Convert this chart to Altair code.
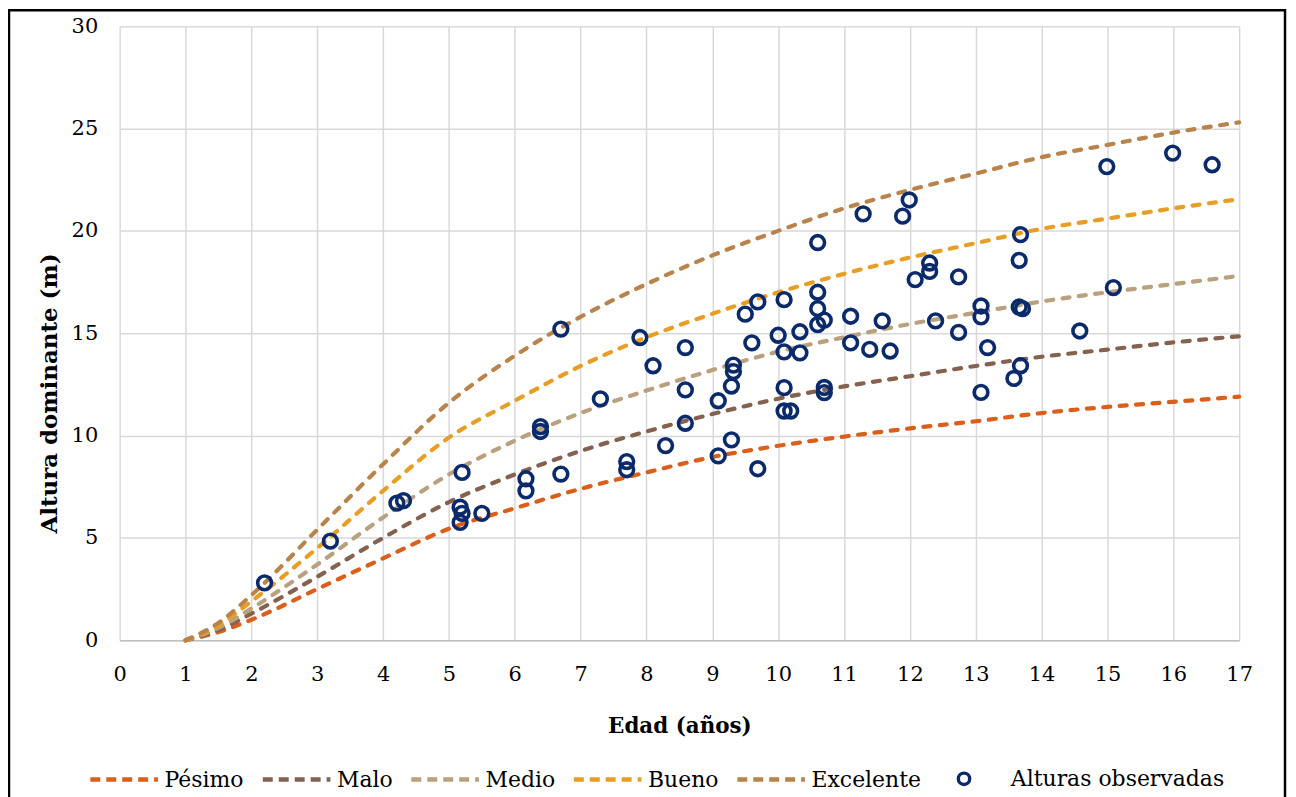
import altair as alt
import pandas as pd

# --- curves ---
ages = [1, 1.5, 2, 3, 4, 5, 6, 7, 8, 9, 10, 11, 12, 13, 14, 15, 16, 17]
excelente = [0, 0.85, 2.2, 5.4, 8.6, 11.6, 13.9, 15.8, 17.4, 18.8, 20.0, 21.1, 22.0, 22.8, 23.6, 24.2, 24.8, 25.3]
bueno = [0, 0.72, 1.9, 4.5, 7.3, 9.9, 11.7, 13.4, 14.8, 15.95, 17.0, 17.9, 18.7, 19.4, 20.1, 20.6, 21.1, 21.55]
medio = [0, 0.6, 1.55, 3.7, 6.0, 8.1, 9.75, 11.1, 12.2, 13.2, 14.1, 14.8, 15.45, 16.0, 16.55, 17.0, 17.4, 17.8]
malo = [0, 0.5, 1.3, 3.1, 5.0, 6.75, 8.1, 9.25, 10.2, 11.05, 11.8, 12.4, 12.9, 13.4, 13.85, 14.2, 14.55, 14.85]
pesimo = [0, 0.4, 1.0, 2.5, 4.0, 5.45, 6.45, 7.4, 8.2, 8.95, 9.5, 9.95, 10.35, 10.7, 11.1, 11.4, 11.65, 11.9]

series_names = ["Pésimo", "Malo", "Medio", "Bueno", "Excelente"]
series_colors = ["#DA5F1B", "#84624F", "#B9A07E", "#E89E24", "#B9834B"]

# --- observed heights ---
obs_age = [2.2, 3.2, 4.21, 4.31, 5.2, 5.17, 5.2, 5.17, 5.5, 6.17, 6.17, 6.39, 6.39, 6.7, 6.7,
           7.3, 7.7, 7.7, 7.9, 8.1, 8.29, 8.59, 8.59, 8.59, 9.09, 9.09, 9.29, 9.29, 9.32, 9.32,
           9.5, 9.69, 9.6, 9.69, 10.0, 10.09, 10.09, 10.09, 10.09, 10.19, 10.33, 10.33,
           10.6, 10.6, 10.6, 10.6, 10.7, 10.7, 10.7, 11.1, 11.1, 11.39, 11.7, 11.58,
           11.29, 11.89, 11.99, 12.08, 12.3, 12.3, 12.39, 12.74, 12.74, 13.08, 13.08, 13.08,
           13.18, 13.58, 13.68, 13.68, 13.66, 13.66, 13.71, 14.58, 15.09, 14.99, 15.99, 16.59]
obs_h = [2.8, 4.84, 6.7, 6.82, 8.2, 6.5, 6.2, 5.76, 6.2, 7.89, 7.3, 10.44, 10.2, 15.2, 8.12,
         11.79, 8.73, 8.33, 14.79, 13.41, 9.51, 14.3, 12.23, 10.6, 11.7, 9.01, 9.79, 12.42, 13.44, 13.12,
         15.93, 16.53, 14.53, 8.38, 14.9, 16.64, 14.09, 12.34, 11.2, 11.2, 15.07, 14.04,
         19.43, 17.0, 16.2, 15.42, 15.64, 12.35, 12.1, 15.83, 14.53, 14.21, 14.13, 15.6,
         20.83, 20.72, 21.51, 17.62, 18.43, 18.02, 15.6, 17.75, 15.04, 16.33, 15.8, 12.11,
         14.3, 12.79, 13.41, 19.82, 18.56, 16.28, 16.2, 15.11, 17.23, 23.14, 23.8, 23.23]

x_ticks = list(range(0, 18))
y_ticks = [0, 5, 10, 15, 20, 25, 30]

FONT = "DejaVu Serif"

rows = []
for name, vals in zip(series_names, [pesimo, malo, medio, bueno, excelente]):
    for a, v in zip(ages, vals):
        rows.append({"Edad": a, "Altura": v, "Curva": name})
curves = pd.DataFrame(rows)
obs = pd.DataFrame({"Edad": obs_age, "Altura": obs_h, "Serie": "Alturas observadas"})

x_scale = alt.Scale(domain=[0, 17], nice=False)
y_scale = alt.Scale(domain=[0, 30], nice=False)

x_axis = alt.Axis(values=x_ticks, format="d", title="Edad (años)", labelPadding=23, titlePadding=32,
                  titleFontSize=21.5, labelFlush=False,
                  grid=True, ticks=False, tickSize=0, domainColor="#BFBFBF", domainWidth=1.5)
y_axis = alt.Axis(values=y_ticks, format="d", title="Altura dominante (m)", labelPadding=22,
                  titleFontSize=23, titleX=-70, titleY=368, titleAngle=-90,
                  titleAlign="center", titleBaseline="middle", labelFlush=False,
                  grid=True, ticks=False, tickSize=0, domain=False)

lines = alt.Chart(curves).mark_line(
    strokeDash=[7, 9.5], strokeWidth=4.2, strokeCap="round", interpolate="monotone"
).encode(
    x=alt.X("Edad:Q", scale=x_scale, axis=x_axis),
    y=alt.Y("Altura:Q", scale=y_scale, axis=y_axis),
    color=alt.Color(
        "Curva:N",
        scale=alt.Scale(domain=series_names, range=series_colors),
        sort=series_names,
        legend=alt.Legend(
            title=None, orient="none", direction="horizontal", legendX=-32, legendY=719,
            symbolType="stroke", symbolSize=4600, symbolStrokeWidth=4.5, symbolDash=[10, 6],
            labelFontSize=22, labelFont=FONT, labelColor="#000000", labelOffset=4,
            columnPadding=9, labelLimit=300,
        ),
    ),
    detail="Curva:N",
)

points = alt.Chart(obs).mark_point(
    shape="circle", filled=False, size=190, strokeWidth=3.6, color="#0B2A6B", opacity=1
).encode(
    x=alt.X("Edad:Q", scale=x_scale),
    y=alt.Y("Altura:Q", scale=y_scale),
    shape=alt.Shape(
        "Serie:N",
        scale=alt.Scale(domain=["Alturas observadas"], range=["circle"]),
        legend=alt.Legend(
            title=None, orient="none", legendX=836, legendY=744,
            symbolSize=130, symbolStrokeWidth=3.4, symbolStrokeColor="#0B2A6B",
            symbolFillColor="transparent",
            labelFontSize=22, labelFont=FONT, labelColor="#000000", labelOffset=36,
            labelLimit=300,
        ),
    ),
)

frame = alt.Chart(pd.DataFrame({"k": [0]})).mark_rect(
    filled=False, stroke="#000000", strokeWidth=2.5
).encode(
    x=alt.value(-111), x2=alt.value(1169), y=alt.value(-16), y2=alt.value(790)
)

chart = alt.layer(lines, points, frame).resolve_legend(
    color="independent", shape="independent"
).properties(
    width=1123, height=616,
    background="#FFFFFF",
    autosize=alt.AutoSizeParams(type="none"),
    padding={"left": 112, "top": 17, "right": 49, "bottom": 156},
).configure_view(stroke=None).configure_axis(
    labelFont=FONT, labelFontSize=21, labelColor="#000000",
    titleFont=FONT, titleFontWeight="bold", titleColor="#000000",
    gridColor="#D9D9D9", gridWidth=1.5,
)

chart.save("out.html", embed_options={"renderer": "svg", "actions": False})
